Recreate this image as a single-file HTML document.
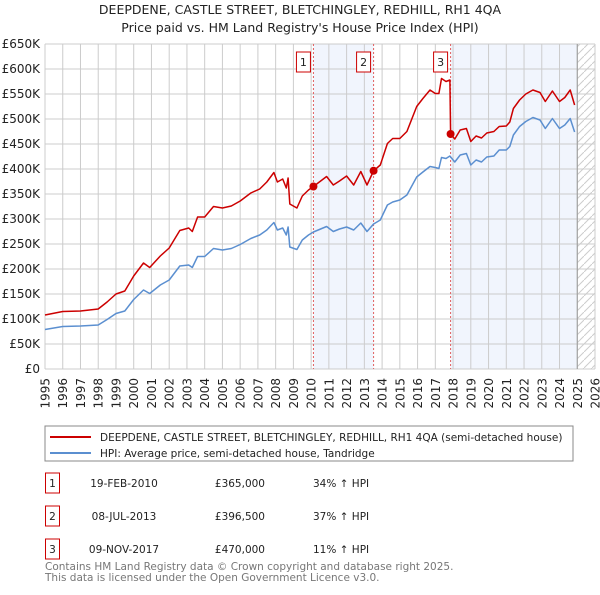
<!DOCTYPE html>
<html><head><meta charset="utf-8"><style>
body{margin:0;background:#fff;}
svg text{font-family:"DejaVu Sans","Liberation Sans",sans-serif;}
</style></head><body>
<svg id="c" width="600" height="590" xmlns="http://www.w3.org/2000/svg">
<text x="300" y="14" text-anchor="middle" font-size="12.5" fill="#222">DEEPDENE, CASTLE STREET, BLETCHINGLEY, REDHILL, RH1 4QA</text>
<text x="300" y="32" text-anchor="middle" font-size="12.5" fill="#222">Price paid vs. HM Land Registry's House Price Index (HPI)</text>
<g id="plot"></g>
<rect x="45" y="426" width="528" height="35" fill="#fff" stroke="#888"/>
<line x1="50" y1="437" x2="91" y2="437" stroke="#cc0000" stroke-width="2"/>
<text x="100" y="441" font-size="10.5" fill="#222">DEEPDENE, CASTLE STREET, BLETCHINGLEY, REDHILL, RH1 4QA (semi-detached house)</text>
<line x1="50" y1="453" x2="91" y2="453" stroke="#5b8fd0" stroke-width="2"/>
<text x="100" y="457" font-size="10.5" fill="#222">HPI: Average price, semi-detached house, Tandridge</text>
<g id="table" font-size="10.5" fill="#222"></g>
<text x="45" y="570" font-size="10.5" fill="#777">Contains HM Land Registry data © Crown copyright and database right 2025.</text>
<text x="45" y="581" font-size="10.5" fill="#777">This data is licensed under the Open Government Licence v3.0.</text>
</svg>
<script>
const years=[1995,1996,1997,1998,1998.5,1999,1999.5,2000,2000.55,2000.9,2001.5,2002,2002.6,2003.1,2003.3,2003.6,2004,2004.5,2005,2005.5,2006,2006.6,2007.1,2007.5,2007.9,2008.1,2008.4,2008.6,2008.7,2008.8,2009.2,2009.5,2009.85,2010.13,2010.87,2011.25,2011.6,2012,2012.4,2012.8,2013.15,2013.52,2013.9,2014.3,2014.6,2015,2015.4,2015.95,2016.3,2016.7,2017,2017.2,2017.35,2017.6,2017.82,2017.86,2018.1,2018.4,2018.75,2019,2019.3,2019.6,2019.9,2020.3,2020.6,2021,2021.2,2021.4,2021.75,2022.1,2022.5,2022.9,2023.2,2023.6,2024,2024.3,2024.6,2024.85];
const hpiValues=[79,85,86,88,99,111,116,139,158,151,168,178,206,208,203,225,225,241,238,241,249,261,268,278,293,278,282,268,284,244,239,258,268,274,285,275,280,284,278,292,275,290,298,328,334,338,348,384,394,405,403,401,423,421,426,424,414,428,431,408,418,414,424,426,438,438,445,468,485,495,503,498,481,501,481,488,501,474];
const priceValues=[108,115,116,120,134,150,156,186,212,203,226,242,277,282,275,304,304,325,322,326,336,352,360,374,393,374,380,362,382,330,322,346,358,365,385,368,376,386,368,395,368,396.5,408,451,461,461,475,525,541,558,551,551,581,575,578,470,460,478,481,455,466,462,472,475,485,486,494,521,538,550,558,553,535,556,535,543,558,528];
const saleYears=[2010.13,2013.52,2017.86];
const salePrices=[365,396.5,470];
const saleLabels=["1","2","3"];
const saleDates=["19-FEB-2010","08-JUL-2013","09-NOV-2017"];
const salePriceText=["£365,000","£396,500","£470,000"];
const saleHpiText=["34% ↑ HPI","37% ↑ HPI","11% ↑ HPI"];
const yTicks=[0,50,100,150,200,250,300,350,400,450,500,550,600,650];
const xTicks=[1995,1996,1997,1998,1999,2000,2001,2002,2003,2004,2005,2006,2007,2008,2009,2010,2011,2012,2013,2014,2015,2016,2017,2018,2019,2020,2021,2022,2023,2024,2025,2026];

const NS="http://www.w3.org/2000/svg";
const X0=45,X1=595,Y0=369,Y1=44;
const xs=y=>X0+(y-1995)*(X1-X0)/31;
const ys=v=>Y0-v*(Y0-Y1)/650;
const plot=document.getElementById('plot');
function mk(tag,attrs,parent){const e=document.createElementNS(NS,tag);for(const k in attrs)e.setAttribute(k,attrs[k]);(parent||plot).appendChild(e);return e;}

let r=mk('rect',{x:xs(saleYears[0]),y:Y1,width:xs(saleYears[1])-xs(saleYears[0]),height:Y0-Y1,fill:'#eef3fc',opacity:0.8});


r=mk('rect',{x:xs(saleYears[2]),y:Y1,width:xs(2025)-xs(saleYears[2]),height:Y0-Y1,fill:'#eef3fc',opacity:0.8});


const defs=mk('defs',{});
const pat=mk('pattern',{id:'h',patternUnits:'userSpaceOnUse',width:8,height:8},defs);
mk('path',{d:'M0,8 L8,0',stroke:'#ccc','stroke-width':1},pat);
r=mk('rect',{x:xs(2025),y:Y1,width:X1-xs(2025),height:Y0-Y1,fill:'url(#h)'});



yTicks.forEach(v=>{
  const l=mk('line',{x1:X0,x2:X1,y1:ys(v),y2:ys(v),stroke:'#ccc','stroke-width':1});
  
  
  const t=mk('text',{x:40,y:ys(v)+4,'text-anchor':'end','font-size':12,fill:'#222'});
  t.textContent=v===0?'£0':'£'+v+'K';
  
  
});
xTicks.forEach(y=>{
  const l=mk('line',{x1:xs(y),x2:xs(y),y1:Y1,y2:Y0,stroke:'#ccc','stroke-width':1});
  
  
  const x=xs(y)+4.5;
  const t=mk('text',{x:x,y:378,'text-anchor':'end','font-size':12,fill:'#222',transform:'rotate(-90 '+x+' 378)'});
  t.textContent=y;
  
  
});
let l=mk('line',{x1:xs(2025),x2:xs(2025),y1:Y1,y2:Y0,stroke:'#999','stroke-width':1});



saleYears.forEach((y,i)=>{
  const v=mk('line',{x1:xs(y),x2:xs(y),y1:Y1,y2:Y0,stroke:'#e06060','stroke-width':1,'stroke-dasharray':'2,2'});
  
  
});

function path(vals){return vals.map((v,i)=>(i?'L':'M')+xs(years[i]).toFixed(1)+','+ys(v).toFixed(1)).join(' ');}
const hp=mk('path',{d:path(hpiValues),fill:'none',stroke:'#5b8fd0','stroke-width':1.5,'stroke-linejoin':'round'});


const pp=mk('path',{d:path(priceValues),fill:'none',stroke:'#cc0000','stroke-width':1.5,'stroke-linejoin':'round'});



saleYears.forEach((y,i)=>{
  const c=mk('circle',{cx:xs(y),cy:ys(salePrices[i]),r:4,fill:'#cc0000'});
  
  
  const bx=xs(y)-10;
  const b=mk('rect',{x:bx-7,y:52,width:14,height:20,fill:'#fff',stroke:'#cc0000','stroke-width':1});
  
  
  const t=mk('text',{x:bx,y:66,'text-anchor':'middle','font-size':11,fill:'#222'});
  t.textContent=saleLabels[i];
  
  
});

const tb=document.getElementById('table');
const rowY=[483,516,549];
saleLabels.forEach((s,i)=>{
  const y=rowY[i];
  const b=mk('rect',{x:45.5,y:y-10,width:14,height:20,fill:'#fff',stroke:'#cc0000','stroke-width':1},tb);
  
  
  const n=mk('text',{x:52.5,y:y+4,'text-anchor':'middle'},tb);n.textContent=s;
  
  
  const d=mk('text',{x:124,y:y+4,'text-anchor':'middle'},tb);d.textContent=saleDates[i];
  
  
  const p=mk('text',{x:265,y:y+4,'text-anchor':'end'},tb);p.textContent=salePriceText[i];
  
  
  const h=mk('text',{x:313,y:y+4},tb);h.textContent=saleHpiText[i];
  
  
});
</script>
</body></html>
